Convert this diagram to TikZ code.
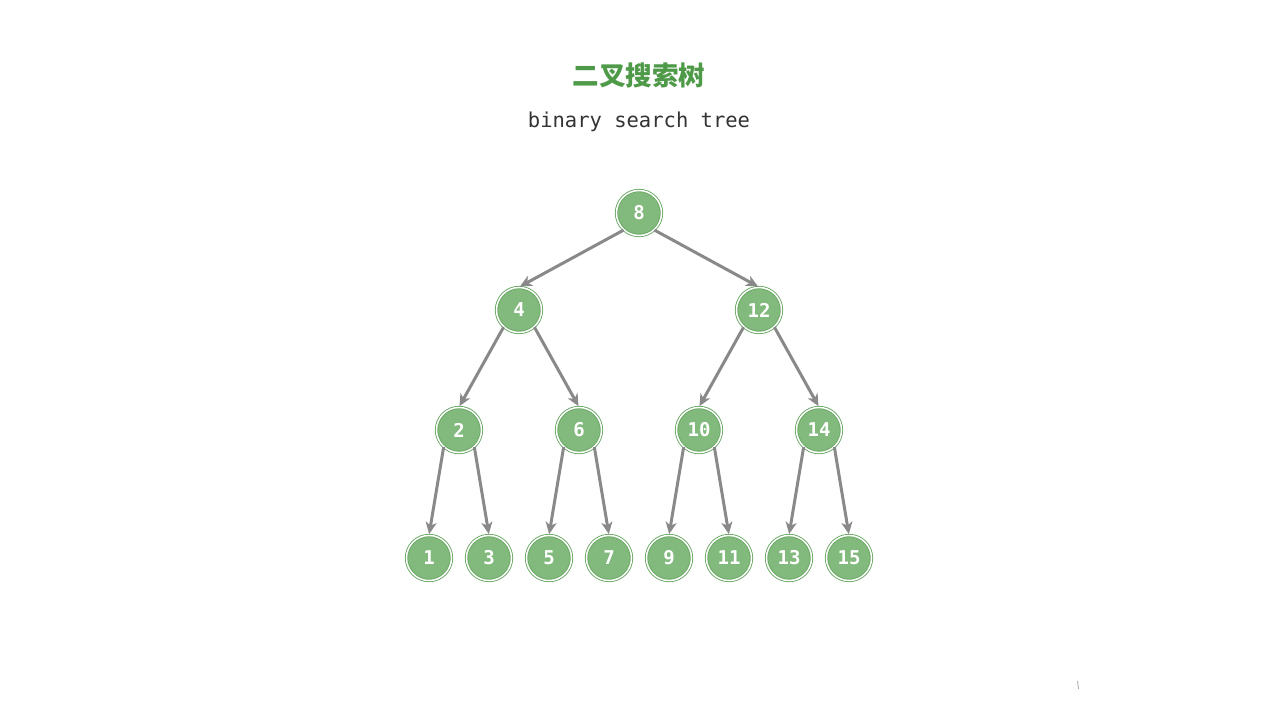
\documentclass[tikz,border=0pt]{standalone}
\usepackage{fontspec}
\setmonofont{DejaVu Sans Mono}
\newfontfamily\cjk{Noto Sans CJK SC}
\usetikzlibrary{arrows.meta}
\definecolor{nodefill}{HTML}{82B97C}
\definecolor{nodeline}{HTML}{68A862}
\definecolor{titlegreen}{HTML}{4E9A49}
\definecolor{edgegray}{HTML}{898989}
\definecolor{subgray}{HTML}{333333}
\begin{document}
\begin{tikzpicture}[x=1pt,y=-1pt,
  tn/.style={circle,minimum size=45pt,inner sep=0pt,fill=nodefill,draw=nodeline,line width=0.9pt,double=white,double distance=1.5pt,
    font=\ttfamily\bfseries\fontsize{19}{19}\selectfont,text=white},
  ed/.style={draw=edgegray,line width=3pt,-{Stealth[length=12pt,width=11pt,inset=3.5pt]},shorten >=1pt}]
\useasboundingbox (0,0) rectangle (1280,720);
\node[font=\cjk\bfseries\fontsize{26.5}{26.5}\selectfont,text=titlegreen] (title) at (639,75) {二叉搜索树};
\node[font=\ttfamily\fontsize{20.5}{20.5}\selectfont,text=subgray] (sub) at (639,122) {binary search tree};
\node[tn] (n8) at (639,213) {8};
\node[tn] (n4) at (519,310) {4};
\node[tn] (n12) at (759,310) {12};
\node[tn] (n2) at (459,430) {2};
\node[tn] (n6) at (579,430) {6};
\node[tn] (n10) at (699,430) {10};
\node[tn] (n14) at (819,430) {14};
\node[tn] (n1) at (429,558) {1};
\node[tn] (n3) at (489,558) {3};
\node[tn] (n5) at (549,558) {5};
\node[tn] (n7) at (609,558) {7};
\node[tn] (n9) at (669,558) {9};
\node[tn] (n11) at (729,558) {11};
\node[tn] (n13) at (789,558) {13};
\node[tn] (n15) at (849,558) {15};
\draw[ed] (n8.-132) -- (n4.north);
\draw[ed] (n8.-48) -- (n12.north);
\draw[ed] (n4.-132) -- (n2.north);
\draw[ed] (n4.-48) -- (n6.north);
\draw[ed] (n12.-132) -- (n10.north);
\draw[ed] (n12.-48) -- (n14.north);
\draw[ed] (n2.-132) -- (n1.north);
\draw[ed] (n2.-48) -- (n3.north);
\draw[ed] (n6.-132) -- (n5.north);
\draw[ed] (n6.-48) -- (n7.north);
\draw[ed] (n10.-132) -- (n9.north);
\draw[ed] (n10.-48) -- (n11.north);
\draw[ed] (n14.-132) -- (n13.north);
\draw[ed] (n14.-48) -- (n15.north);
\coordinate (m1) at (1077.5,681);
\coordinate (m2) at (1078.5,689);
\draw[gray!70,line width=0.8pt] (m1) -- (m2);
\end{tikzpicture}
\end{document}
